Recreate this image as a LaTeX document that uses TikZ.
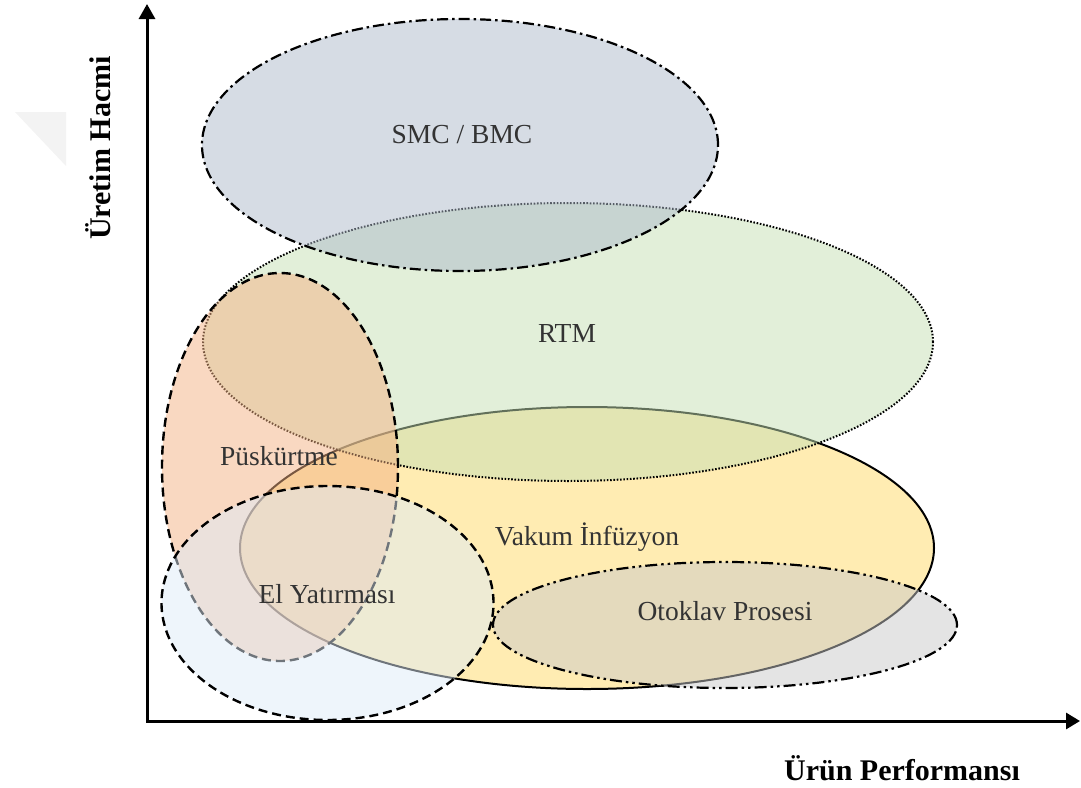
\documentclass[tikz,border=0pt]{standalone}
\usepackage{fontspec}
\setmainfont{Liberation Serif}
\usetikzlibrary{arrows.meta}

% fill colours of the process regions (drawn half transparent)
\definecolor{smcfill}{HTML}{ADB9CA}
\definecolor{rtmfill}{HTML}{C5E0B4}
\definecolor{puskfill}{HTML}{F4B183}
\definecolor{vakfill}{HTML}{FFD966}
\definecolor{elfill}{HTML}{DEEBF7}
\definecolor{otofill}{HTML}{C9C9C9}
\definecolor{labeltext}{HTML}{333333}
\definecolor{markgray}{HTML}{F3F3F3}

\tikzset{
  region/.style={fill opacity=0.5, draw=black, line width=2.2pt},
  longdashdot/.style={dash pattern=on 11pt off 4pt on 2.5pt off 4pt},
  longdashdotdot/.style={dash pattern=on 12pt off 4pt on 2.5pt off 4pt on 2.5pt off 4pt},
  fine dots/.style={dash pattern=on 1.6pt off 1.7pt, line width=2pt},
  longdashes/.style={dash pattern=on 9pt off 5pt, line width=2.4pt},
  lbl/.style={text=labeltext, font=\fontsize{27.5}{32}\selectfont, anchor=base, inner sep=0pt},
  axislbl/.style={text=black, font=\fontsize{30}{34}\selectfont\bfseries, anchor=base, inner sep=0pt},
  axis/.style={line width=3pt, line join=miter,
    {Triangle[length=15pt,width=16pt]}-{Triangle[length=14pt,width=16pt]}}
}

\begin{document}
\begin{tikzpicture}[x=1pt,y=-1pt]
\useasboundingbox (0,0) rectangle (1081,787);

% faint corner mark at the left margin
\fill[markgray] (15,112) -- (66,112) -- (66,166) -- cycle;

% process regions, back to front
\path[region, fill=vakfill, line width=2pt]
  (587,548) ellipse [x radius=347pt, y radius=141pt];
\path[region, fill=rtmfill, fine dots]
  (568,342) ellipse [x radius=365pt, y radius=139pt];
\path[region, fill=smcfill, longdashdot]
  (460,145) ellipse [x radius=258pt, y radius=126pt];
\path[region, fill=puskfill, longdashes]
  (280,467) ellipse [x radius=118pt, y radius=194pt];
\path[region, fill=otofill, longdashdotdot]
  (725,625) ellipse [x radius=232pt, y radius=63pt];
\path[region, fill=elfill, longdashes]
  (327.5,603) ellipse [x radius=166pt, y radius=117pt];

% region labels
\node[lbl] (smc)  at (462,143) {SMC / BMC};
\node[lbl] (rtm)  at (567,342) {RTM};
\node[lbl] (pusk) at (279,465) {Püskürtme};
\node[lbl] (vak)  at (587,545) {Vakum İnfüzyon};
\node[lbl] (el)   at (327,603) {El Yatırması};
\node[lbl] (oto)  at (725,620) {Otoklav Prosesi};

% axes
\coordinate (ytip) at (147,4);
\coordinate (orig) at (147,721);
\coordinate (xtip) at (1080,721);
\draw[axis] (ytip) -- (orig) -- (xtip);

\node[axislbl] (xlabel) at (902,780) {Ürün Performansı};
\node[axislbl, rotate=90] (ylabel) at (110,148) {Üretim Hacmi};
\end{tikzpicture}
\end{document}
